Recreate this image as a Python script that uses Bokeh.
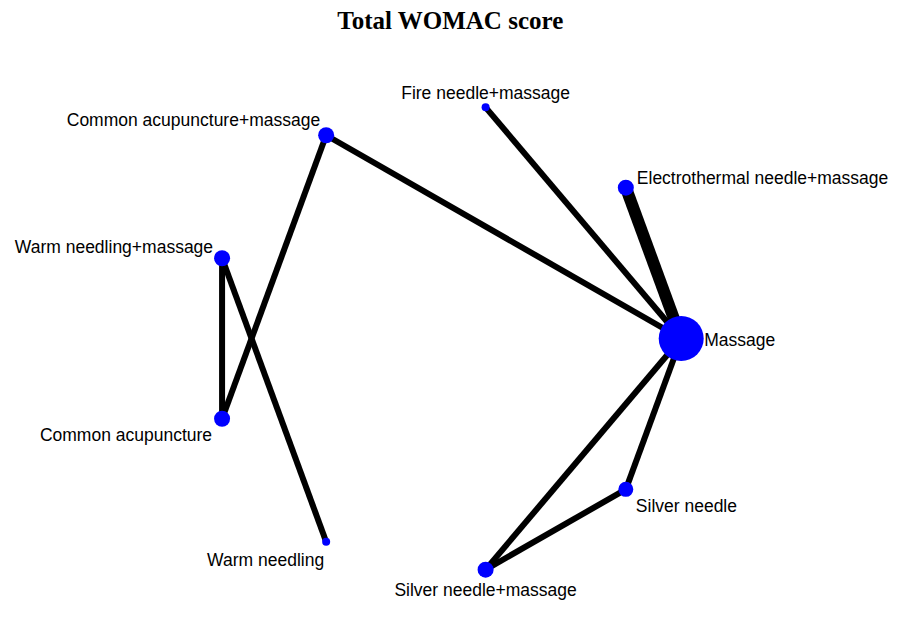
import numpy as np
from bokeh.plotting import figure
from bokeh.models import ColumnDataSource, Range1d, Label
from bokeh.core.properties import value
from bokeh.embed import file_html
from bokeh.resources import INLINE

# ---- data ----
treatments = ["Massage", "Electrothermal needle+massage", "Fire needle+massage",
              "Common acupuncture+massage", "Warm needling+massage", "Common acupuncture",
              "Warm needling", "Silver needle+massage", "Silver needle"]
node_size = [45, 16, 8, 16, 16, 16, 8, 16, 15]   # proportional to number of studies
edges_from = ["Massage", "Massage", "Massage", "Massage", "Massage",
              "Silver needle", "Warm needling+massage", "Warm needling+massage",
              "Common acupuncture+massage"]
edges_to = ["Electrothermal needle+massage", "Fire needle+massage",
            "Common acupuncture+massage", "Silver needle", "Silver needle+massage",
            "Silver needle+massage", "Common acupuncture", "Warm needling",
            "Common acupuncture"]
edge_width = [12, 6, 6, 6, 6, 6, 6, 6, 6]

# ---- layout (circle, nodes at equal angles) ----
n = len(treatments)
ang = np.deg2rad(np.arange(n) * 360.0 / n)
nx = np.cos(ang)
ny = np.sin(ang)
pos = {t: (nx[i], ny[i]) for i, t in enumerate(treatments)}

# label placement (screen offsets)
lab_dx = [23, 11, 0, -6, -9, -10, -2, 0, 10]
lab_dy = [1, -10, -14, -15, -11, 16, 18, 20, 17]
lab_align = ["left", "left", "center", "right", "right", "right", "right", "center", "left"]

W, H = 893, 603
cx, cy, RX, RY = 444.0, 338.0, 236.7, 234.7
p = figure(width=W, height=H, output_backend="svg", toolbar_location=None,
           x_range=Range1d((0 - cx) / RX, (W - cx) / RX),
           y_range=Range1d((cy - H) / RY, (cy - 0) / RY),
           min_border=0)
p.axis.visible = False
p.grid.visible = False
p.outline_line_color = None
p.background_fill_color = "white"
p.border_fill_color = "white"

es = ColumnDataSource(dict(
    x0=[pos[a][0] for a in edges_from], y0=[pos[a][1] for a in edges_from],
    x1=[pos[b][0] for b in edges_to], y1=[pos[b][1] for b in edges_to],
    w=edge_width))
p.segment("x0", "y0", "x1", "y1", source=es, line_color="black", line_width="w")

ns = ColumnDataSource(dict(x=nx, y=ny, s=node_size, name=treatments,
                           dx=lab_dx, dy=lab_dy, al=lab_align))
p.scatter("x", "y", size="s", source=ns, fill_color="#0000FF", line_color=None)
p.text("x", "y", text="name", source=ns, x_offset="dx", y_offset="dy",
       text_align="al", text_baseline="middle", text_font=value("Liberation Sans"),
       text_font_size="17.5px", text_color="black")

p.add_layout(Label(x=450, y=H - 20, x_units="screen", y_units="screen",
                   text="Total WOMAC score", text_align="center", text_baseline="middle",
                   text_font="Liberation Serif", text_font_style="bold",
                   text_font_size="25px", text_color="black"))

open("out.html", "w").write(file_html(p, INLINE))
